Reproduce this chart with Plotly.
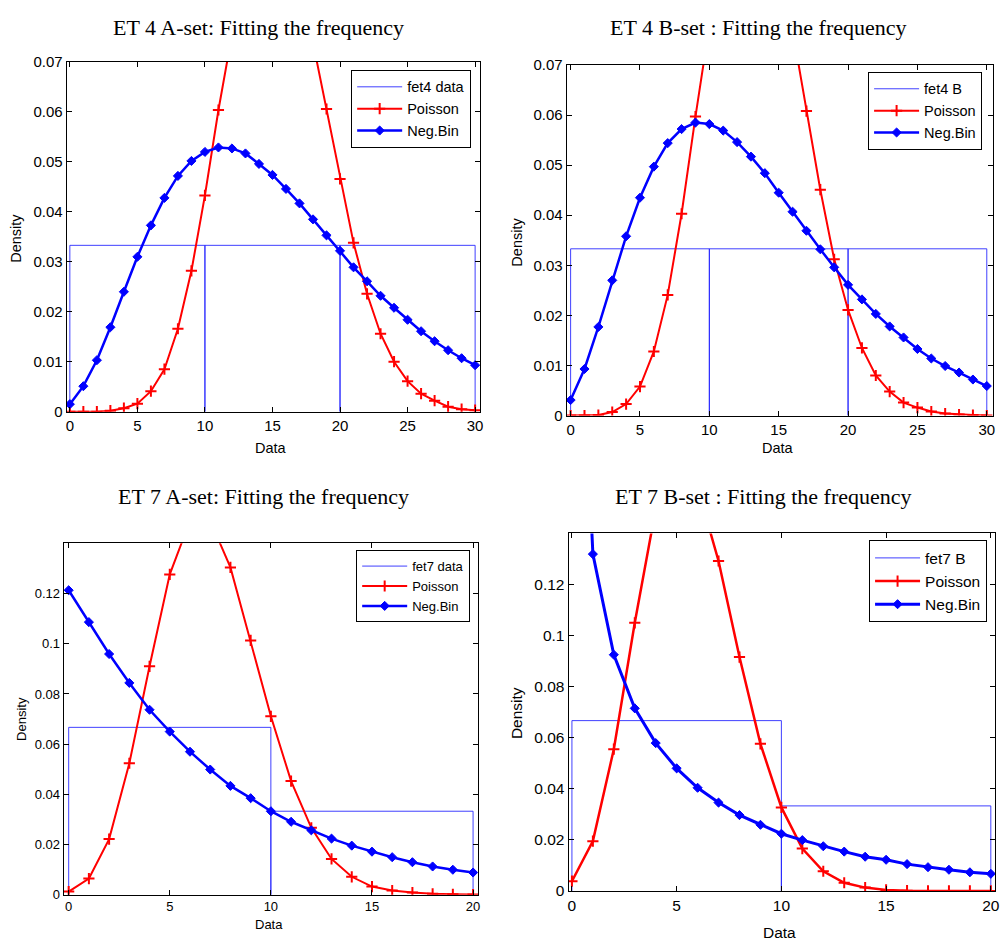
import plotly.graph_objects as go

W, H = 1003, 950

# ---------------- data ----------------
k30 = list(range(31))
k20 = list(range(21))

# ET 4 A-set
a4_pois = [0.0, 0.0, 0.0, 0.0002, 0.0007, 0.0016, 0.0041, 0.0085, 0.0166, 0.0282,
           0.0433, 0.0604, 0.0770, 0.0906, 0.0990, 0.1010, 0.0966, 0.0869, 0.0739, 0.0606,
           0.0466, 0.0338, 0.0236, 0.0156, 0.0100, 0.0061, 0.0036, 0.0022, 0.0010, 0.0005, 0.0003]
a4_nb = [0.0015, 0.0051, 0.0103, 0.0169, 0.0240, 0.0310, 0.0373, 0.0428, 0.0472, 0.0502,
         0.0520, 0.0529, 0.0527, 0.0517, 0.0496, 0.0474, 0.0446, 0.0417, 0.0385, 0.0353,
         0.0322, 0.0289, 0.0261, 0.0232, 0.0208, 0.0184, 0.0161, 0.0141, 0.0123, 0.0107, 0.0093]
a4_edges = [0, 10, 20, 30]
a4_hist = [0.0333, 0.0333, 0.0333]

# ET 4 B-set
b4_pois = [0.0, 0.0, 0.0001, 0.0007, 0.0023, 0.0058, 0.0128, 0.0241, 0.0403, 0.0597,
           0.0790, 0.0960, 0.1060, 0.1090, 0.1030, 0.0920, 0.0770, 0.0608, 0.0451, 0.0312,
           0.0211, 0.0135, 0.0080, 0.0048, 0.0026, 0.0016, 0.0008, 0.0004, 0.0002, 0.0001, 0.0]
b4_nb = [0.0031, 0.0093, 0.0177, 0.0270, 0.0358, 0.0435, 0.0497, 0.0544, 0.0572, 0.0585,
         0.0582, 0.0569, 0.0546, 0.0517, 0.0484, 0.0445, 0.0407, 0.0369, 0.0332, 0.0296,
         0.0261, 0.0232, 0.0203, 0.0178, 0.0156, 0.0133, 0.0114, 0.0099, 0.0086, 0.0072, 0.0059]
b4_edges = [0, 10, 20, 30]
b4_hist = [0.0333, 0.0333, 0.0333]

# ET 7 A-set
a7_pois = [0.0013, 0.0065, 0.0222, 0.0524, 0.0910, 0.1276, 0.1490, 0.1490, 0.1304, 0.1013,
           0.0711, 0.0453, 0.0267, 0.0143, 0.0072, 0.0033, 0.0017, 0.0009, 0.0004, 0.0002, 0.0001]
a7_nb = [0.1213, 0.1086, 0.0959, 0.0844, 0.0737, 0.0650, 0.0570, 0.0499, 0.0434, 0.0385,
         0.0333, 0.0291, 0.0257, 0.0224, 0.0196, 0.0172, 0.0150, 0.0130, 0.0113, 0.0100, 0.0089]
a7_edges = [0, 10, 20]
a7_hist = [0.0667, 0.0333]

# ET 7 B-set
b7_pois = [0.0038, 0.0195, 0.0555, 0.1050, 0.1496, 0.1706, 0.1580, 0.1292, 0.0916, 0.0576,
           0.0327, 0.0166, 0.0077, 0.0032, 0.0013, 0.0004, 0.0001, 0.0, 0.0, 0.0, 0.0]
b7_nb = [0.3100, 0.1319, 0.0925, 0.0715, 0.0579, 0.0480, 0.0404, 0.0346, 0.0297, 0.0259,
         0.0224, 0.0199, 0.0175, 0.0154, 0.0134, 0.0122, 0.0105, 0.0093, 0.0083, 0.0073, 0.0067]
b7_edges = [0, 10, 20]
b7_hist = [0.0667, 0.0333]

titles = ["ET 4 A-set: Fitting the frequency", "ET 4 B-set : Fitting the frequency",
          "ET 7 A-set: Fitting the frequency", "ET 7 B-set : Fitting the frequency"]
hist_names = ["fet4 data", "fet4 B", "fet7 data", "fet7 B"]

y4_ticks = [0, 0.01, 0.02, 0.03, 0.04, 0.05, 0.06, 0.07]
y4_text = ["0", "0.01", "0.02", "0.03", "0.04", "0.05", "0.06", "0.07"]
y7_ticks = [0, 0.02, 0.04, 0.06, 0.08, 0.10, 0.12]
y7_text = ["0", "0.02", "0.04", "0.06", "0.08", "0.1", "0.12"]
x30_ticks = [0, 5, 10, 15, 20, 25, 30]
x20_ticks = [0, 5, 10, 15, 20]

# ---------------- layout geometry (pixels) ----------------
panels = [
    dict(k=k30, pois=a4_pois, nb=a4_nb, edges=a4_edges, hist=a4_hist,
         box=(66, 54, 482, 410), xr=[-0.24, 30.37], yr=[0, 0.07],
         yt=y4_ticks, ytt=y4_text, xt=x30_ticks, fs=15, lfs=14.5, lwr=2, lwb=2.5,
         title_xy=(259, 19), dens_xy=(15, 233), data_xy=(272, 447),
         leg=(473, 62)),
    dict(k=k30, pois=b4_pois, nb=b4_nb, edges=b4_edges, hist=b4_hist,
         box=(569, 57, 998, 414), xr=[-0.29, 30.45], yr=[0, 0.07],
         yt=y4_ticks, ytt=y4_text, xt=x30_ticks, fs=15, lfs=14.5, lwr=2, lwb=2.5,
         title_xy=(762, 19), dens_xy=(519, 237), data_xy=(782, 447),
         leg=(987, 64)),
    dict(k=k20, pois=a7_pois, nb=a7_nb, edges=a7_edges, hist=a7_hist,
         box=(63, 544, 480, 902), xr=[-0.25, 20.25], yr=[0, 0.14],
         yt=y7_ticks, ytt=y7_text, xt=x20_ticks, fs=13, lfs=13, lwr=2, lwb=2.5,
         title_xy=(264, 496), dens_xy=(20, 723), data_xy=(270, 932),
         leg=(472, 551)),
    dict(k=k20, pois=b7_pois, nb=b7_nb, edges=b7_edges, hist=b7_hist,
         box=(571, 534, 1000, 898), xr=[-0.16, 20.2], yr=[0, 0.14],
         yt=y7_ticks, ytt=y7_text, xt=x20_ticks, fs=15.5, lfs=15.5, lwr=2.5, lwb=3,
         title_xy=(767, 496), dens_xy=(518, 717), data_xy=(783, 940),
         leg=(992, 541)),
]

ARIAL = "Liberation Sans, Arial, sans-serif"
TIMES = "Liberation Serif, Times New Roman, serif"

fig = go.Figure()
layout = dict(width=W, height=H, margin=dict(l=0, r=0, t=0, b=0),
              paper_bgcolor="white", plot_bgcolor="white", annotations=[])

for i, p in enumerate(panels):
    n = "" if i == 0 else str(i + 1)
    xa, ya = "x" + n, "y" + n
    leg = "legend" + n
    x0, y0, x1, y1 = p["box"]
    # histogram outline built from bin edges and heights
    hx, hy = [], []
    for j, h in enumerate(p["hist"]):
        e0, e1 = p["edges"][j], p["edges"][j + 1]
        hx += [e0, e0, e1, e1, None]
        hy += [0, h, h, 0, None]
    fig.add_trace(go.Scatter(x=hx, y=hy, mode="lines", name=hist_names[i],
                             line=dict(color="rgba(30,30,255,0.85)", width=1),
                             xaxis=xa, yaxis=ya, legend=leg, hoverinfo="skip"))
    fig.add_trace(go.Scatter(x=p["k"], y=p["pois"], mode="lines+markers", name="Poisson",
                             line=dict(color="#ff0000", width=p["lwr"]),
                             marker=dict(symbol="cross-thin", size=8, color="#ff0000",
                                         line=dict(color="#ff0000", width=2)),
                             xaxis=xa, yaxis=ya, legend=leg))
    fig.add_trace(go.Scatter(x=p["k"], y=p["nb"], mode="lines+markers", name="Neg.Bin",
                             line=dict(color="#0000ff", width=p["lwb"]),
                             marker=dict(symbol="diamond", size=7, color="#0000ff",
                                         line=dict(color="#0000ff", width=1)),
                             xaxis=xa, yaxis=ya, legend=leg))
    axcommon = dict(showline=True, linecolor="black", linewidth=1, mirror="ticks",
                    ticks="inside", ticklen=5, tickcolor="black", showgrid=False,
                    zeroline=False, tickfont=dict(family=ARIAL, size=p["fs"], color="black"))
    layout["xaxis" + n] = dict(domain=[x0 / W, x1 / W], range=p["xr"], anchor=ya,
                               tickvals=p["xt"], ticktext=[str(t) for t in p["xt"]], **axcommon)
    layout["yaxis" + n] = dict(domain=[1 - y1 / H, 1 - y0 / H], range=p["yr"], anchor=xa,
                               tickvals=p["yt"], ticktext=p["ytt"], **axcommon)
    layout[leg] = dict(x=p["leg"][0] / W, y=1 - p["leg"][1] / H, xanchor="right", yanchor="top",
                       bgcolor="white", bordercolor="black", borderwidth=1,
                       font=dict(family=ARIAL, size=p["lfs"], color="black"),
                       itemwidth=45, tracegroupgap=0)
    tx, ty = p["title_xy"]
    layout["annotations"].append(dict(text=titles[i], x=tx / W, y=1 - ty / H, xref="paper",
                                      yref="paper", showarrow=False, xanchor="center",
                                      yanchor="middle",
                                      font=dict(family=TIMES, size=22, color="black")))
    dx, dy = p["dens_xy"]
    layout["annotations"].append(dict(text="Density", x=dx / W, y=1 - dy / H, xref="paper",
                                      yref="paper", showarrow=False, textangle=-90,
                                      xanchor="center", yanchor="middle",
                                      font=dict(family=ARIAL, size=p["lfs"], color="black")))
    ax_, ay_ = p["data_xy"]
    layout["annotations"].append(dict(text="Data", x=ax_ / W, y=1 - ay_ / H, xref="paper",
                                      yref="paper", showarrow=False,
                                      xanchor="center", yanchor="middle",
                                      font=dict(family=ARIAL, size=p["lfs"], color="black")))

fig.update_layout(**layout)
fig.write_html("out.html")
